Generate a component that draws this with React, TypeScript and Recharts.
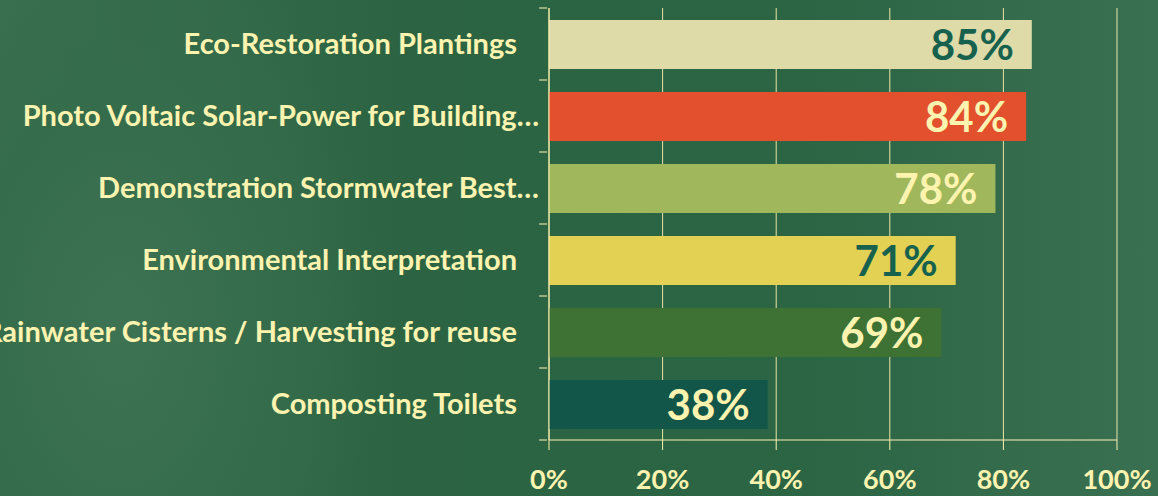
import React from "react";
import {
  BarChart,
  Bar,
  XAxis,
  YAxis,
  CartesianGrid,
  LabelList,
  Cell,
} from "recharts";

// Survey results, top to bottom
const categories = [
  "Eco-Restoration Plantings",
  "Photo Voltaic Solar-Power for Building…",
  "Demonstration Stormwater Best…",
  "Environmental Interpretation",
  "Rainwater Cisterns / Harvesting for reuse",
  "Composting Toilets",
];
// bar lengths; labels show the whole percent
const percents = [85, 84, 78.6, 71.6, 69.1, 38.5];
const barColors = ["#dfdba8", "#e2502e", "#a0b75c", "#e2d153", "#3e7235", "#12564a"];
const labelColors = ["#17614f", "#fff3b0", "#fff3b0", "#17614f", "#fff3b0", "#fff3b0"];
const xTicks = [0, 20, 40, 60, 80, 100];

const data = categories.map((name, i) => ({ name, value: percents[i] }));

const CREAM = "#fff3b0";
const FONT = "Lato, 'Open Sans', sans-serif";
const W = 1158;
const H = 496;
const TOP = 8;
const AXIS_H = 56;
const BAND = (H - TOP - AXIS_H) / categories.length;

const CategoryTick = (props: any) => {
  const { x, y, payload, index } = props;
  const label: string = payload.value;
  const shift = label.endsWith("…") ? 0 : 22;
  const ax = x + 8; // axis line position
  return (
    <g>
      <line x1={ax - 8} x2={ax} y1={y - BAND / 2} y2={y - BAND / 2} stroke={CREAM} />
      {index === categories.length - 1 && (
        <line x1={ax - 8} x2={ax} y1={y + BAND / 2} y2={y + BAND / 2} stroke={CREAM} />
      )}
      <text
        x={x - shift}
        y={y}
        dy={10}
        textAnchor="end"
        fill={CREAM}
        fontFamily={FONT}
        fontWeight={700}
        fontSize={29}
      >
        {label}
      </text>
    </g>
  );
};

const PercentTick = (props: any) => {
  const { x, y, payload } = props;
  return (
    <text
      x={x}
      y={y}
      dy={37}
      textAnchor="middle"
      fill={CREAM}
      fontFamily={FONT}
      fontWeight={700}
      fontSize={27}
    >
      {`${payload.value}%`}
    </text>
  );
};

const ValueLabel = (props: any) => {
  const { x, y, width, height, value, index } = props;
  return (
    <text
      x={x + width - 18}
      y={y + height / 2}
      dy={15}
      textAnchor="end"
      fill={labelColors[index]}
      fontFamily={FONT}
      fontWeight={700}
      fontSize={42}
    >
      {`${Math.floor(value)}%`}
    </text>
  );
};

const App = () => {
  return (
    <div
      style={{
        position: "absolute",
        left: 0,
        top: 0,
        width: W,
        height: H,
        background:
          "radial-gradient(ellipse 260px 420px at 120px 330px, #3d7353 0%, #356c4b 55%, rgba(45,102,68,0) 100%), linear-gradient(90deg, #3a6f50 0%, #2c6443 35%, #2b6544 70%, #3a7052 100%)",
      }}
    >
      <BarChart
        width={W}
        height={H}
        data={data}
        layout="vertical"
        margin={{ top: TOP, right: 41, bottom: 0, left: 0 }}
        barSize={49}
      >
        <CartesianGrid horizontal={false} stroke={CREAM} strokeOpacity={0.9} />
        <XAxis
          type="number"
          domain={[0, 100]}
          ticks={xTicks}
          height={AXIS_H}
          axisLine={{ stroke: CREAM }}
          tickLine={{ stroke: CREAM }}
          tickSize={10}
          tick={<PercentTick />}
          interval={0}
        />
        <YAxis
          type="category"
          dataKey="name"
          width={549}
          axisLine={{ stroke: CREAM }}
          tickLine={false}
          tickSize={8}
          tick={<CategoryTick />}
          interval={0}
        />
        <Bar dataKey="value" isAnimationActive={false}>
          {data.map((_, i) => (
            <Cell key={i} fill={barColors[i]} />
          ))}
          <LabelList dataKey="value" content={<ValueLabel />} />
        </Bar>
      </BarChart>
    </div>
  );
};

export default App;
